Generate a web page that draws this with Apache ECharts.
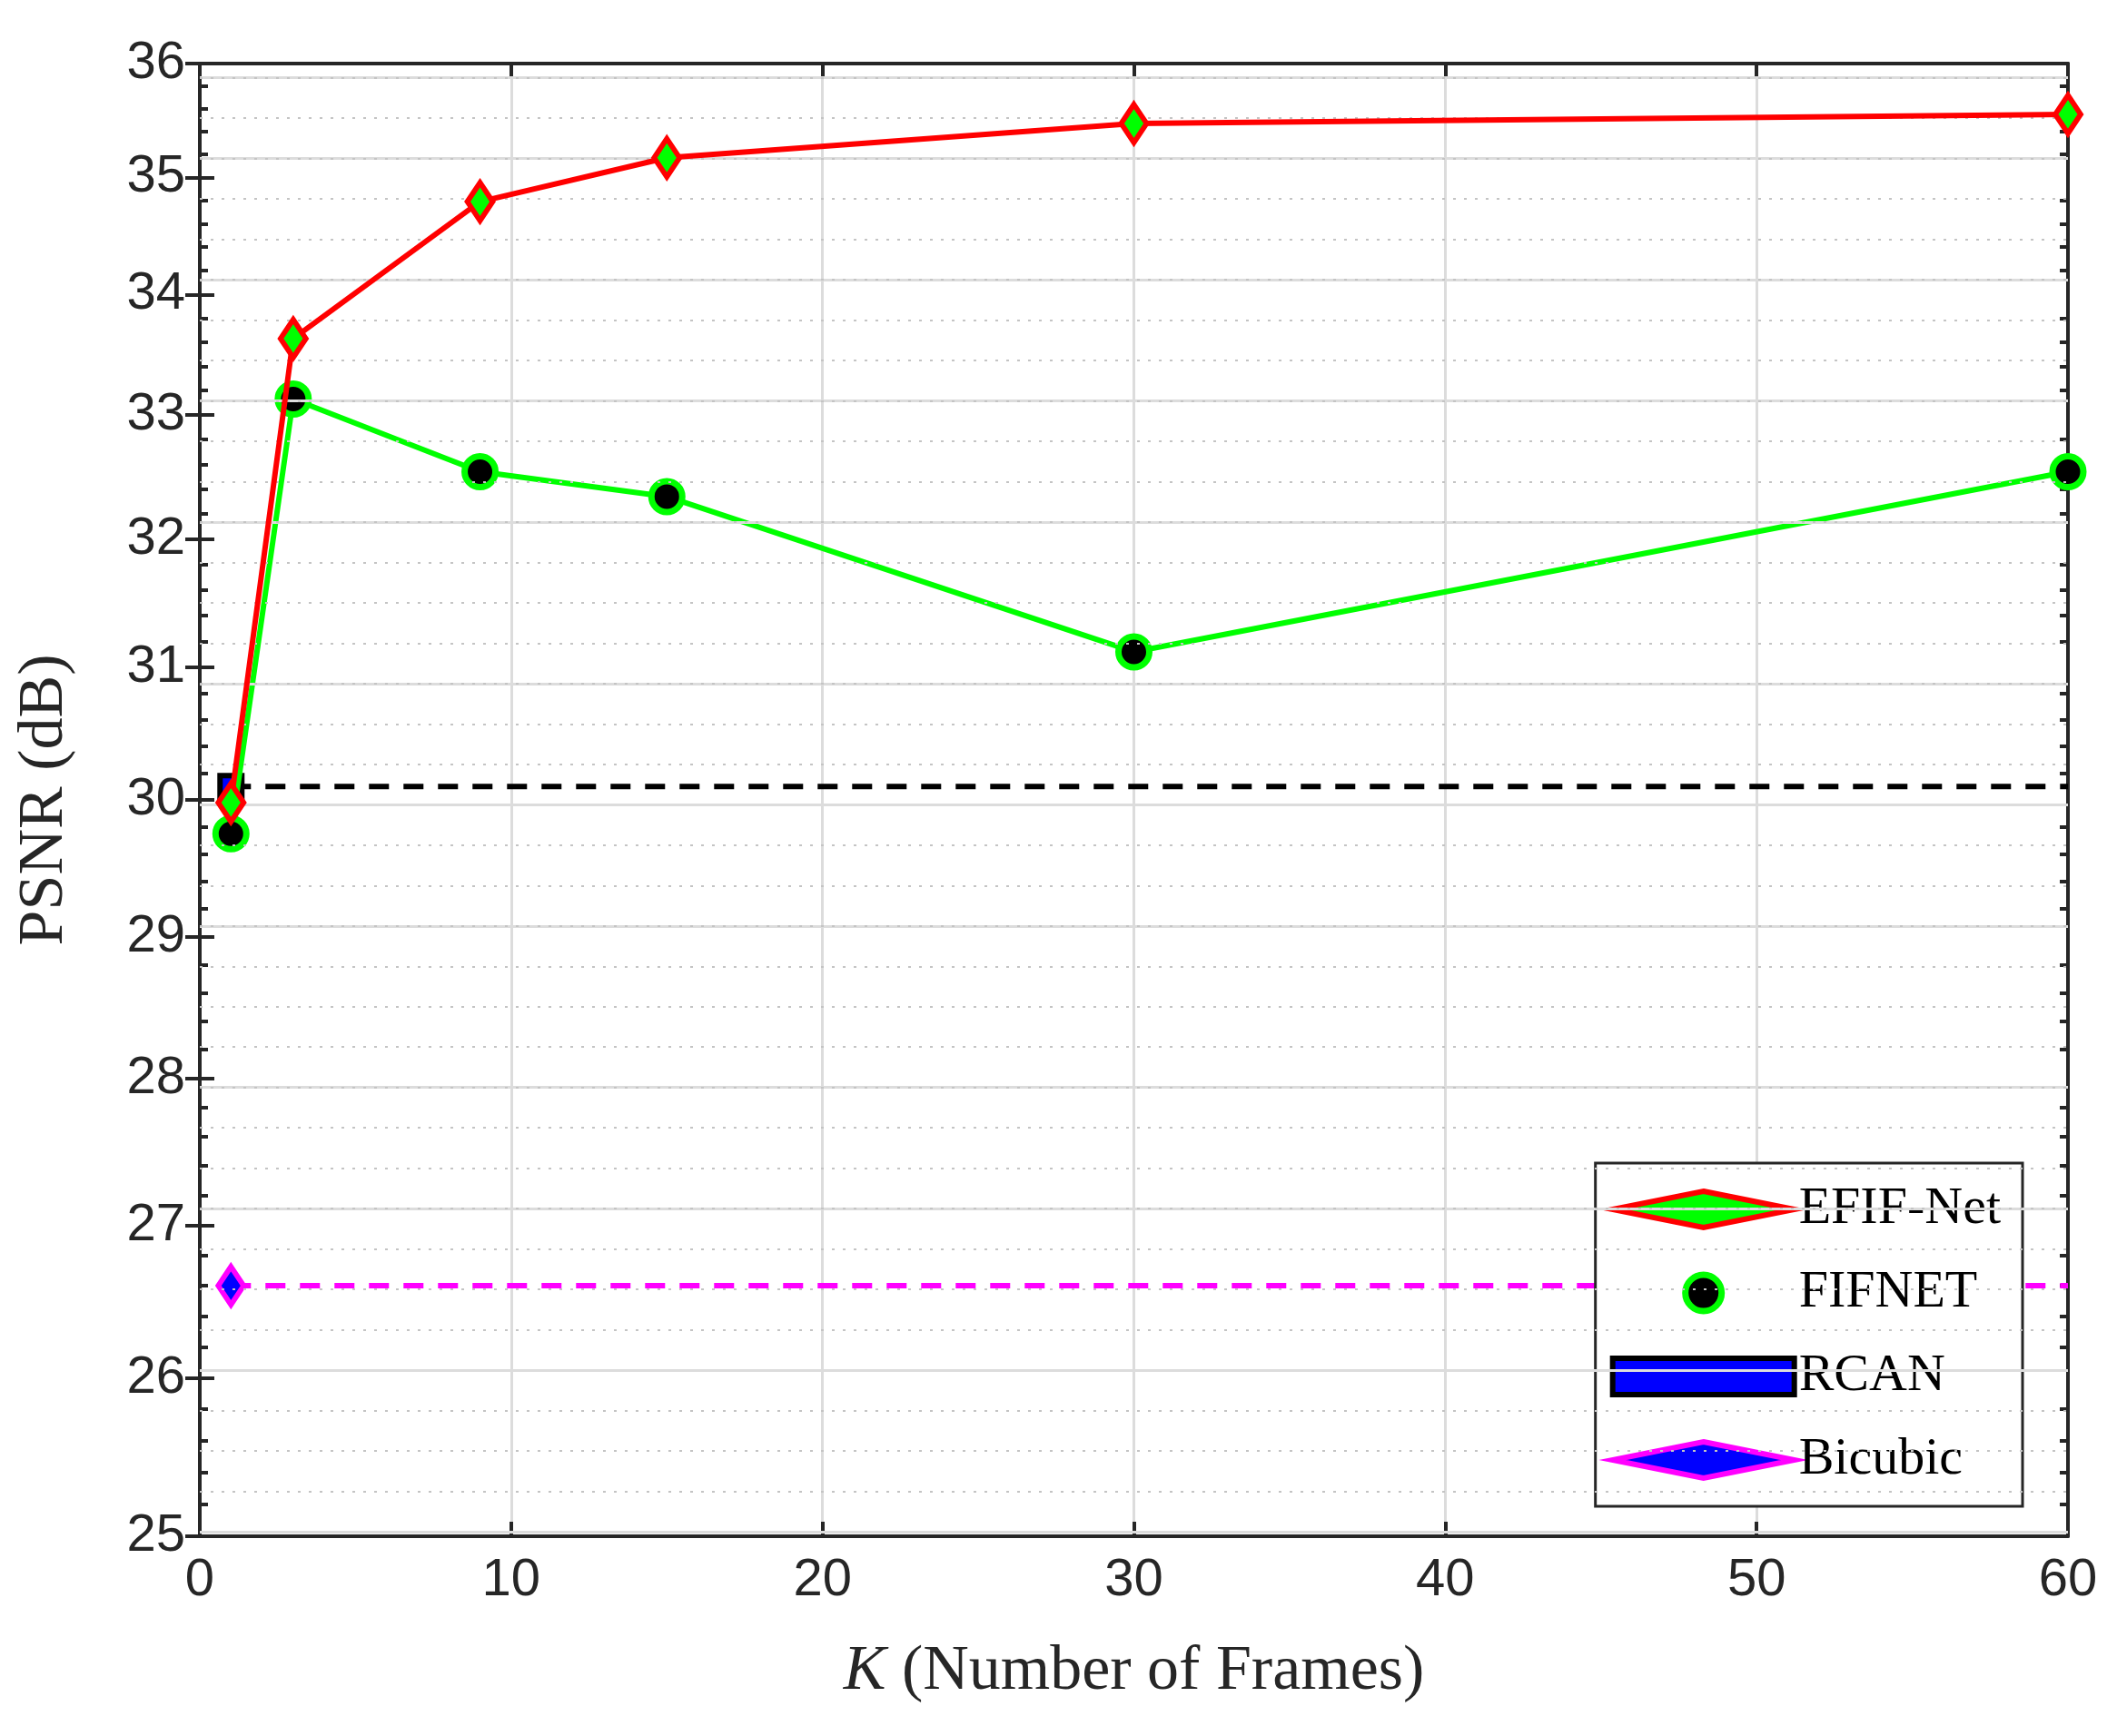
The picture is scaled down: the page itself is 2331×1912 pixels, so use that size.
<!DOCTYPE html>
<html>
<head>
<meta charset="utf-8" />
<title>PSNR vs K</title>
<script src="https://cdn.jsdelivr.net/npm/echarts@6/dist/echarts.min.js"></script>
<style>html,body{margin:0;padding:0;background:#fff}</style>
</head>
<body>
<div id="chart" style="width:2331px;height:1912px;"></div>
<script type="text/javascript">
  // data
  var frames = [1, 3, 9, 15, 30, 60];
  var efifNet = [29.98, 33.63, 34.79, 35.17, 35.47, 35.55];
  var fifnet = [29.75, 33.13, 32.54, 32.34, 31.12, 32.54];
  var rcan = 30.1;
  var bicubic = 26.6;
  var yTicks = [25, 26, 27, 28, 29, 30, 31, 32, 33, 34, 35, 36];

  // y axis is logarithmic in the original, so plot ln(value)
  var L = Math.log;
  var yMinor = [];
  for (var v = 25; v < 36; v++) {
    for (var k = 1; k < 5; k++) yMinor.push(v + k * 0.2);
  }
  var grayLine = '#dcdcdc';
  var gridLines = [];
  yTicks.forEach(function (t) {
    gridLines.push({ yAxis: L(t), lineStyle: { color: grayLine, width: 3, type: 'solid' } });
  });
  yMinor.forEach(function (t) {
    gridLines.push({ yAxis: L(t), lineStyle: { color: '#c4c4c4', width: 2, type: [3, 9] } });
  });

  function pairs(ys) {
    return frames.map(function (x, i) { return [x, L(ys[i])]; });
  }

  var serif = 'Liberation Serif, DejaVu Serif, serif';
  var sans = 'Liberation Sans, Arial, sans-serif';

  function yAx(pos, ticks, len, labels) {
    return {
      type: 'value', position: pos, min: L(25), max: L(36),
      axisLine: { show: true, lineStyle: { color: '#262626', width: 4 } },
      axisTick: { show: true, inside: true, length: len, customValues: ticks.map(L), lineStyle: { color: '#262626', width: 4 } },
      axisLabel: labels ? {
        show: true, customValues: yTicks.map(L), fontSize: 58, color: '#262626', fontFamily: sans, margin: 16,
        formatter: function (val) { return Math.round(Math.exp(val)); }
      } : { show: false },
      splitLine: { show: false },
      name: labels ? 'PSNR (dB)' : '', nameLocation: 'middle', nameGap: 135,
      nameTextStyle: { fontSize: 70, fontFamily: serif, color: '#262626' }
    };
  }

  var styles = {
    'EFIF-Net': { line: { color: '#ff0000', width: 6 }, item: { color: '#00ff00', borderColor: '#ff0000', borderWidth: 6 }, symbol: 'diamond', size: [28, 42] },
    'FIFNET': { line: { color: '#00ff00', width: 6 }, item: { color: '#000', borderColor: '#00ff00', borderWidth: 7 }, symbol: 'circle', size: 34 },
    'RCAN': { line: { color: '#000', width: 6, type: [22, 16] }, item: { color: '#0000ff', borderColor: '#000', borderWidth: 6 }, symbol: 'rect', size: 24 },
    'Bicubic': { line: { color: '#ff00ff', width: 6, type: [22, 16] }, item: { color: '#0000ff', borderColor: '#ff00ff', borderWidth: 6 }, symbol: 'diamond', size: [28, 42] }
  };
  function legendItem(name) {
    return { name: name, icon: styles[name].symbol, itemStyle: styles[name].item, lineStyle: styles[name].line };
  }
  function seriesOf(name, data, z) {
    var s = styles[name];
    return { name: name, type: 'line', z: z, data: data, lineStyle: s.line, itemStyle: s.item, symbol: s.symbol, symbolSize: s.size };
  }

  var myChart = echarts.init(document.getElementById('chart'));
  var option = {
    animation: false,
    grid: { left: 220, right: 54, top: 70, bottom: 220 },
    xAxis: [{
      type: 'value', min: 0, max: 60, interval: 10, position: 'bottom',
      axisLine: { show: true, lineStyle: { color: '#262626', width: 4 } },
      axisTick: { show: true, inside: true, length: 16, lineStyle: { color: '#262626', width: 4 } },
      axisLabel: { fontSize: 58, color: '#262626', fontFamily: sans, margin: 20 },
      splitLine: { show: true, lineStyle: { color: grayLine, width: 3 } },
      name: '{i|K} (Number of Frames)', nameLocation: 'middle', nameGap: 115,
      nameTextStyle: {
        fontSize: 70, fontFamily: serif, color: '#262626',
        rich: { i: { fontSize: 70, fontFamily: serif, fontStyle: 'italic', color: '#262626' } }
      }
    }, {
      type: 'value', min: 0, max: 60, interval: 10, position: 'top',
      axisLine: { show: true, lineStyle: { color: '#262626', width: 4 } },
      axisTick: { show: true, inside: true, length: 16, lineStyle: { color: '#262626', width: 4 } },
      axisLabel: { show: false }, splitLine: { show: false }
    }],
    yAxis: [
      yAx('left', yTicks, 16, true),
      yAx('right', yTicks, 16, false),
      yAx('left', yMinor, 9, false),
      yAx('right', yMinor, 9, false)
    ],
    legend: {
      orient: 'vertical', right: 104, bottom: 253,
      backgroundColor: '#fff', borderColor: '#262626', borderWidth: 3,
      padding: [22, 24, 22, 16], itemGap: 34, itemWidth: 200, itemHeight: 40,
      textStyle: { fontSize: 58, fontFamily: serif, color: '#000' },
      data: ['EFIF-Net', 'FIFNET', 'RCAN', 'Bicubic'].map(legendItem)
    },
    series: [{
      type: 'line', name: 'grid', data: [], silent: true, z: 1,
      markLine: { silent: true, symbol: 'none', label: { show: false }, data: gridLines, animation: false }
    },
      seriesOf('Bicubic', [[1, L(bicubic)], { value: [60, L(bicubic)], symbol: 'none' }], 3),
      seriesOf('RCAN', [[1, L(rcan)], { value: [60, L(rcan)], symbol: 'none' }], 3),
      seriesOf('FIFNET', pairs(fifnet), 4),
      seriesOf('EFIF-Net', pairs(efifNet), 5)
    ]
  };
  myChart.setOption(option);
</script>
</body>
</html>
